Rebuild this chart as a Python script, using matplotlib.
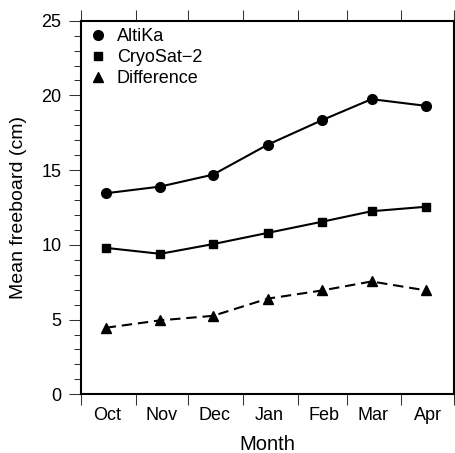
import datetime as dt
import matplotlib
matplotlib.use("Agg")
import matplotlib.pyplot as plt
import matplotlib.dates as mdates
from matplotlib.ticker import MultipleLocator

plt.rcParams['font.family'] = ['Liberation Sans', 'DejaVu Sans']

# mid-month dates, winter 2013/14
months = [dt.date(2013, 10, 15), dt.date(2013, 11, 15), dt.date(2013, 12, 15),
          dt.date(2014, 1, 15), dt.date(2014, 2, 15), dt.date(2014, 3, 15),
          dt.date(2014, 4, 15)]
altika = [13.45, 13.9, 14.7, 16.7, 18.35, 19.75, 19.3]
cryosat = [9.8, 9.4, 10.05, 10.8, 11.55, 12.25, 12.55]
difference = [4.45, 4.95, 5.25, 6.4, 6.95, 7.55, 6.95]

fig = plt.figure(figsize=(4.56, 4.53), dpi=100)
ax = fig.add_axes([0.1776, 0.1296, 0.8187, 0.8247])

ax.plot(months, altika, "k-", marker="o", markersize=7, lw=1.5, label="AltiKa")
ax.plot(months, cryosat, "k-", marker="s", markersize=5.5, lw=1.5, label="CryoSat\u22122")
ax.plot(months, difference, "k--", marker="^", markersize=6.5, lw=1.5,
        dashes=(5, 2.8), label="Difference")

ax.set_xlim(dt.date(2013, 10, 1), dt.date(2014, 5, 1))
ax.set_ylim(0, 25)

# month boundaries as ticks, month names centred between them
ax.xaxis.set_major_locator(mdates.MonthLocator())
ax.xaxis.set_major_formatter(plt.NullFormatter())
ax.xaxis.set_minor_locator(mdates.MonthLocator(bymonthday=16))
ax.xaxis.set_minor_formatter(mdates.DateFormatter("%b"))
ax.yaxis.set_major_locator(MultipleLocator(5))
ax.yaxis.set_minor_locator(MultipleLocator(1))

ax.tick_params(which="both", direction="out", top=True, right=True,
               labelsize=13, width=0.75, color="#333333")
ax.tick_params(axis="y", which="major", length=9, pad=5)
ax.tick_params(axis="y", which="minor", length=5)
ax.tick_params(axis="x", which="major", length=8)
ax.tick_params(axis="x", which="minor", length=0, pad=9)
for s in ax.spines.values():
    s.set_linewidth(1.5)

ax.set_ylabel("Mean freeboard (cm)", fontsize=14)
ax.yaxis.set_label_coords(-0.145, 0.5)
ax.set_xlabel("Month", fontsize=14.5, va="top")
ax.xaxis.set_label_coords(0.5, -0.108)

h = [plt.Line2D([], [], ls="none", marker=m, color="k", markersize=ms)
     for m, ms in (("o", 7), ("s", 5.5), ("^", 6.5))]
ax.legend(h, ["AltiKa", "CryoSat\u22122", "Difference"], loc="upper left",
          bbox_to_anchor=(0.008, 1.0), frameon=False, fontsize=13,
          handlelength=0.8, handletextpad=0.62, labelspacing=0.22,
          borderaxespad=0)

fig.savefig("out.png", dpi=100)
